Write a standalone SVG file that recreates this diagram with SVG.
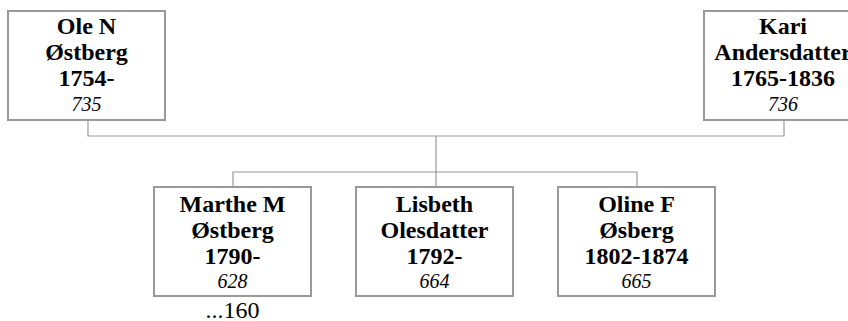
<svg xmlns="http://www.w3.org/2000/svg" width="848" height="321" viewBox="0 0 848 321">
<style>
.box{fill:#fff;stroke:#999;stroke-width:2}
.ln{fill:none;stroke:#999;stroke-width:1.2}
.b{font-family:"Liberation Serif",serif;font-weight:bold;font-size:24px;text-anchor:middle;fill:#000}
.i{font-family:"Liberation Serif",serif;font-style:italic;font-size:20px;text-anchor:middle;fill:#000}
.r{font-family:"Liberation Serif",serif;font-size:24px;text-anchor:middle;fill:#000}
</style>
<rect width="848" height="321" fill="#fff"/>
<g id="connectors">
<path class="ln" d="M88 120V136H784V120M436 136V187M233 187V172H637V187"/>
</g>
<g id="ole">
<rect class="box" x="8" y="11" width="157" height="109"/>
<text class="b" x="86.5" y="34">Ole N</text>
<text class="b" x="86.5" y="60">Østberg</text>
<text class="b" x="86.5" y="86">1754-</text>
<text class="i" x="86.5" y="111">735</text>
</g>
<g id="kari">
<rect class="box" x="704" y="11" width="158" height="109"/>
<text class="b" x="783" y="34">Kari</text>
<text class="b" x="783" y="60">Andersdatter</text>
<text class="b" x="783" y="86">1765-1836</text>
<text class="i" x="783" y="111">736</text>
</g>
<g id="marthe">
<rect class="box" x="154" y="187" width="157" height="109"/>
<text class="b" x="232.5" y="212">Marthe M</text>
<text class="b" x="232.5" y="238">Østberg</text>
<text class="b" x="232.5" y="264">1790-</text>
<text class="i" x="232.5" y="288">628</text>
<text class="r" x="232.5" y="318">...160</text>
</g>
<g id="lisbeth">
<rect class="box" x="356" y="187" width="157" height="109"/>
<text class="b" x="434.5" y="212">Lisbeth</text>
<text class="b" x="434.5" y="238">Olesdatter</text>
<text class="b" x="434.5" y="264">1792-</text>
<text class="i" x="434.5" y="288">664</text>
</g>
<g id="oline">
<rect class="box" x="558" y="187" width="157" height="109"/>
<text class="b" x="636.5" y="212">Oline F</text>
<text class="b" x="636.5" y="238">Øsberg</text>
<text class="b" x="636.5" y="264">1802-1874</text>
<text class="i" x="636.5" y="288">665</text>
</g>
</svg>
